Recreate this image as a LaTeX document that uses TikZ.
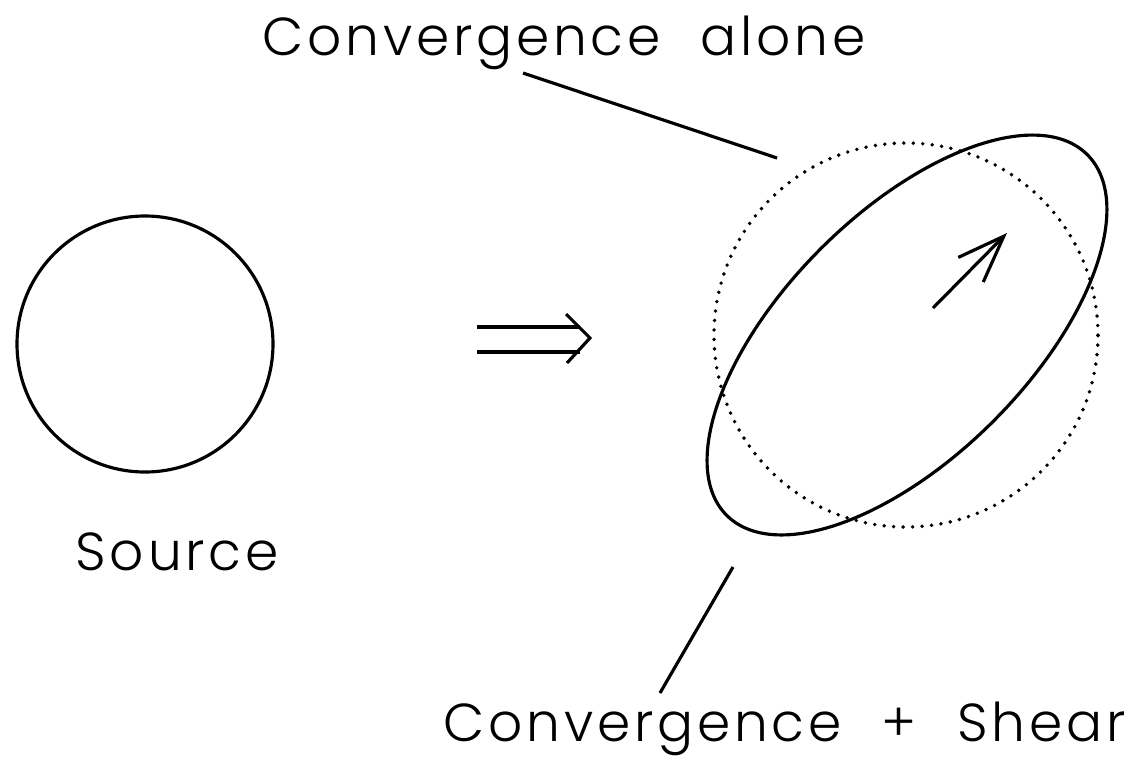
\documentclass[tikz,border=0pt]{standalone}
\usepackage{fontspec}
\setmainfont{Poppins}[UprightFont=* Light, LetterSpace=7, WordSpace=2.2]
\usetikzlibrary{arrows.meta, positioning}

\begin{document}
\begin{tikzpicture}[x=0.01cm, y=0.01cm,
      curve/.style = {line width=0.9pt},
      dots/.style  = {line width=1.1pt, line cap=round, dash pattern=on 0pt off 2.7pt},
      lead/.style  = {line width=0.9pt},
      lbl/.style   = {anchor=base west, inner sep=0pt, font=\fontsize{15.2}{18}\selectfont} ]
    \useasboundingbox (0,0) rectangle (1138,759);

    % source and lensed image
    \draw[curve] (145,415) circle [radius=128];
    \draw[dots]  (906,424) circle [radius=192];
    \draw[curve, rotate around={45:(907,424)}] (907,424) ellipse [x radius=255, y radius=122];

    % the mapping sign
    \coordinate (m1) at (477,432); \coordinate (m2) at (580,432);
    \coordinate (m3) at (477,407); \coordinate (m4) at (580,407);
    \draw[curve] (m1) -- (m2);
    \draw[curve] (m3) -- (m4);
    \draw[curve] (566,445) -- (590,421) -- (567,396);

    % shear direction
    \coordinate (sh0) at (933,451);
    \coordinate (sh1) at (1007,526);
    \draw[curve, -{Straight Barb[length=4.7mm, width=3.5mm]}] (sh0) -- (sh1);

    % labels
    \node[lbl] (src)   at (75,189)  {Source};
    \node[lbl] (alone) at (262,704) {Convergence alone};
    \node[lbl] (shear) at (443,18)  {Convergence + Shear};

    \coordinate (a0) at (523,686); \coordinate (a1) at (777,601);
    \coordinate (s0) at (660,66);  \coordinate (s1) at (733,192);
    \draw[lead] (a0) -- (a1);
    \draw[lead] (s0) -- (s1);
  \end{tikzpicture}
\end{document}
